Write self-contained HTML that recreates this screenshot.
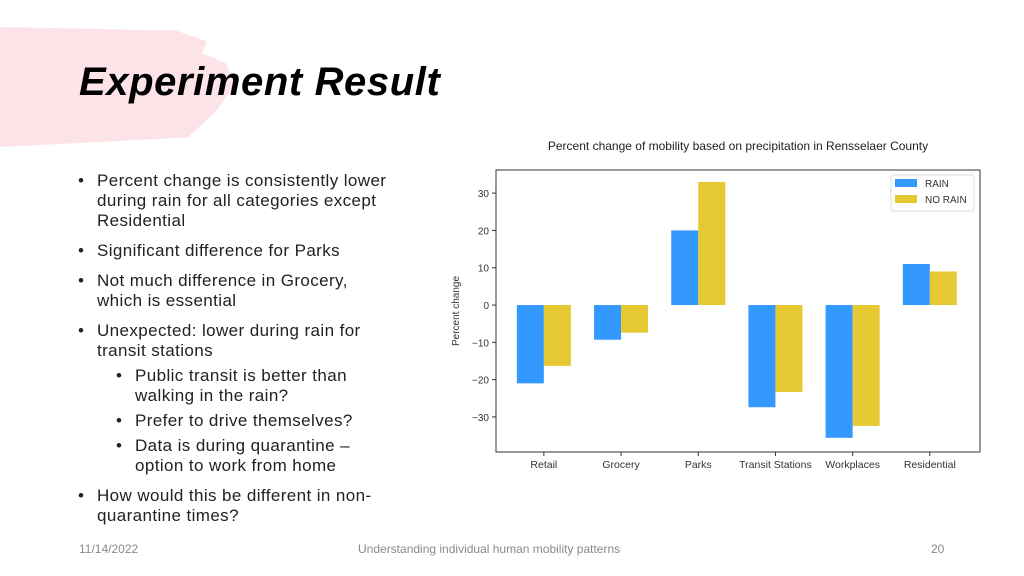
<!DOCTYPE html>
<html><head><meta charset="utf-8">
<style>
body{margin:0;width:1024px;height:576px;background:#fff;position:relative;overflow:hidden;font-family:"Liberation Sans",sans-serif}
.brush{position:absolute;left:0;top:27px;width:235px;height:120px;background:#fbe3e7;border-radius:0 40px 60px 0;clip-path:polygon(0 0,75% 3%,88% 12%,86% 22%,96% 30%,100% 48%,92% 70%,80% 92%,0 100%)}
h1{position:absolute;left:79px;top:60px;margin:0;font-size:40px;font-style:italic;font-weight:bold;color:#000;letter-spacing:0.6px}
ul{position:absolute;left:78px;top:171px;margin:0;padding:0;list-style:none;font-size:17px;color:#222;line-height:20px;width:400px;white-space:nowrap;letter-spacing:0.4px}
li{position:relative;padding-left:19px;margin-bottom:10px}
li:before{content:"•";position:absolute;left:0}
li.sub{padding-left:57px;margin-bottom:5px}
li.sub:before{left:38px}
.foot{position:absolute;top:542px;font-size:12px;color:#8a8a8a}
</style></head><body>
<div class="brush"></div>
<h1>Experiment Result</h1>
<ul>
<li>Percent change is consistently lower<br>during rain for all categories except<br>Residential</li>
<li>Significant difference for Parks</li>
<li>Not much difference in Grocery,<br>which is essential</li>
<li style="margin-bottom:5px">Unexpected: lower during rain for<br>transit stations</li>
<li class="sub">Public transit is better than<br>walking in the rain?</li>
<li class="sub">Prefer to drive themselves?</li>
<li class="sub" style="margin-bottom:10px">Data is during quarantine –<br>option to work from home</li>
<li>How would this be different in non-<br>quarantine times?</li>
</ul>
<div class="foot" style="left:79px">11/14/2022</div>
<div class="foot" style="left:358px">Understanding individual human mobility patterns</div>
<div class="foot" style="left:931px">20</div>
<svg id="chart" width="1024" height="576" style="position:absolute;left:0;top:0"></svg>
<script>
const categories=["Retail","Grocery","Parks","Transit Stations","Workplaces","Residential"];
const rainValues=[-21,-9.3,20,-27.4,-35.6,11];
const noRainValues=[-16.3,-7.4,33,-23.3,-32.4,9];
const yTicks=[-30,-20,-10,0,10,20,30];
const seriesNames=["RAIN","NO RAIN"];
const colors=["#3399ff","#e6c832"];
const L=496,R=980,T=170,B=452,yMin=-39.4,yMax=36.2,xMin=-0.62,xMax=5.65;
const NS="http://www.w3.org/2000/svg",svg=document.getElementById('chart');
const y=v=>B-(v-yMin)/(yMax-yMin)*(B-T);
const x=i=>L+(i-xMin)/(xMax-xMin)*(R-L);
function el(t,a,txt){const e=document.createElementNS(NS,t);for(const k in a)e.setAttribute(k,a[k]);if(txt!=null)e.textContent=txt;svg.appendChild(e);return e;}
let t=el('text',{x:738,y:150,'text-anchor':'middle','font-size':12,fill:'#222'},"Percent change of mobility based on precipitation in Rensselaer County");

const bw=(x(0.35)-x(0));
[rainValues,noRainValues].forEach((vals,s)=>vals.forEach((v,i)=>{
 const cx=x(i)+(s===0?-bw:0);
 const r=el('rect',{x:cx,y:Math.min(y(v),y(0)),width:bw,height:Math.abs(y(v)-y(0)),fill:colors[s]});
 
 
}));
const box=el('rect',{x:L,y:T,width:R-L,height:B-T,fill:'none',stroke:'#333','stroke-width':1});

yTicks.forEach(v=>{
 el('line',{x1:L-4,x2:L,y1:y(v),y2:y(v),stroke:'#333'});
 const l=el('text',{x:L-7,y:y(v)+4,'text-anchor':'end','font-size':10,fill:'#333'},v<0?"−"+(-v):v);
 
});
categories.forEach((c,i)=>{
 el('line',{x1:x(i),x2:x(i),y1:B,y2:B+4,stroke:'#333'});
 const l=el('text',{x:x(i),y:B+16,'text-anchor':'middle','font-size':10.5,fill:'#333'},c);
 
});
const yt=el('text',{x:459,y:311,'text-anchor':'middle','font-size':10,fill:'#333',transform:'rotate(-90 459 311)'},"Percent change");

const lg=el('rect',{x:891,y:175,width:83,height:36,fill:'#fff',stroke:'#ddd',rx:2});

seriesNames.forEach((n,s)=>{
 el('rect',{x:895,y:179+s*16,width:22,height:8,fill:colors[s]});
 const l=el('text',{x:925,y:187+s*16,'font-size':10,fill:'#333'},n);
 
});
</script>
</body></html>
